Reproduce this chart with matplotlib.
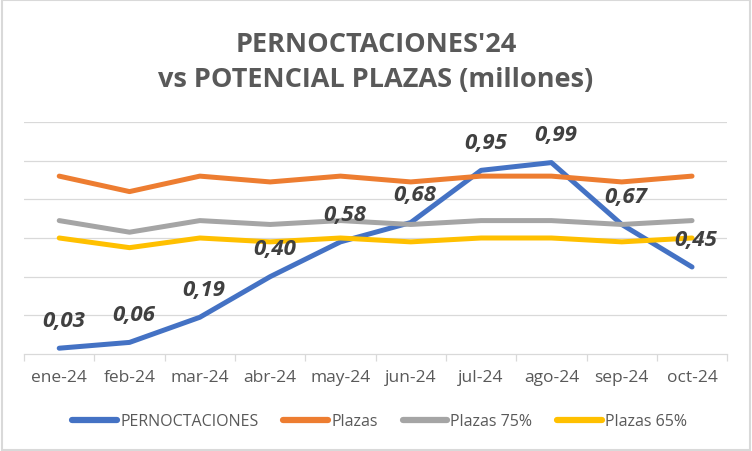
import matplotlib
matplotlib.use("Agg")
import matplotlib.pyplot as plt
from matplotlib.patches import Rectangle

plt.rcParams['font.family'] = ['Open Sans', 'DejaVu Sans']

# datos (millones)
meses = ["ene-24", "feb-24", "mar-24", "abr-24", "may-24",
         "jun-24", "jul-24", "ago-24", "sep-24", "oct-24"]
pernoctaciones = [0.03, 0.06, 0.19, 0.40, 0.58, 0.68, 0.95, 0.99, 0.67, 0.45]
plazas = [0.92, 0.84, 0.92, 0.89, 0.92, 0.89, 0.92, 0.92, 0.89, 0.92]
plazas_75 = [0.69, 0.63, 0.69, 0.67, 0.69, 0.67, 0.69, 0.69, 0.67, 0.69]
plazas_65 = [0.60, 0.55, 0.60, 0.58, 0.60, 0.58, 0.60, 0.60, 0.58, 0.60]

fig = plt.figure(figsize=(7.52, 4.52), dpi=100)
ax = fig.add_axes([0.032, 0.2146, 0.935, 0.5133])

x = list(range(len(meses)))
kw = dict(linewidth=3.6, solid_joinstyle='round', solid_capstyle='round')
ax.plot(x, pernoctaciones, color='#4472C4', label='PERNOCTACIONES', **kw)
ax.plot(x, plazas, color='#ED7D31', label='Plazas', **kw)
ax.plot(x, plazas_75, color='#A5A5A5', label='Plazas 75%', **kw)
ax.plot(x, plazas_65, color='#FFC000', label='Plazas 65%', **kw)

# etiquetas de datos
for xi, v in zip(x, pernoctaciones):
    ax.annotate(f"{v:.2f}".replace('.', ','), (xi, v), xytext=(3, 20),
                textcoords='offset points', ha='center', va='center',
                fontsize=16, fontweight='bold', fontstyle='italic',
                color='#404040', zorder=5)

ax.set_xlim(-0.5, 9.5)
ax.set_ylim(0, 1.2)
ax.set_yticks([0.2, 0.4, 0.6, 0.8, 1.0, 1.2])
ax.yaxis.grid(True, color='#D9D9D9', linewidth=0.9)
ax.set_axisbelow(True)
ax.tick_params(axis='y', left=False, labelleft=False)
ax.set_xticks(x)
ax.set_xticklabels(meses, fontsize=12.5, color='#595959')
ax.tick_params(axis='x', which='major', length=0, pad=11)
ax.set_xticks([i - 0.5 for i in range(len(meses) + 1)], minor=True)
ax.tick_params(axis='x', which='minor', length=5, color='#D9D9D9', width=0.9)
for s in ['top', 'right', 'left']:
    ax.spines[s].set_visible(False)
ax.spines['bottom'].set_color('#D9D9D9')
ax.spines['bottom'].set_linewidth(0.9)

fig.text(0.5, 0.862, "PERNOCTACIONES'24\nvs POTENCIAL PLAZAS (millones)",
         ha='center', va='center', fontsize=19.5, fontweight='bold',
         color='#595959', linespacing=1.45)

leg = fig.legend(loc='center', bbox_to_anchor=(0.505, 0.066), ncol=4, frameon=False,
                 fontsize=11.5, handlelength=2.8, handletextpad=0.2,
                 columnspacing=1.55, labelcolor='#595959')
for h in leg.get_lines():
    h.set_linewidth(4.5)

fig.patches.append(Rectangle((0.002, 0.003), 0.995, 0.994, transform=fig.transFigure,
                             fill=False, edgecolor='#D9D9D9', linewidth=1.5))

fig.savefig("out.png", dpi=100, facecolor='white')
